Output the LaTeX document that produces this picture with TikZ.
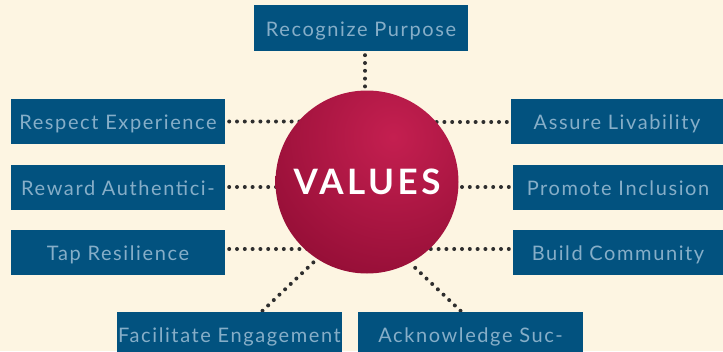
\documentclass[tikz,border=0pt]{standalone}
\usepackage{fontspec}
\setmainfont{Lato}
\newfontfamily\boxfont{Lato}[LetterSpace=8]
\newfontfamily\valfont{Lato}[LetterSpace=10]
\usetikzlibrary{calc,backgrounds}
\definecolor{bgc}{HTML}{FDF5E2}
\definecolor{boxblue}{HTML}{02527F}
\definecolor{boxtext}{HTML}{86AEC8}
\definecolor{dotc}{HTML}{2E2E2E}
\definecolor{cin}{HTML}{C41F50}
\definecolor{cout}{HTML}{780427}
\begin{document}
\begin{tikzpicture}[x=1pt,y=-1pt,
  box/.style={fill=boxblue, text=boxtext, minimum width=214pt, minimum height=45pt, inner sep=0pt,
    text height=20pt, text depth=4pt, font=\boxfont\fontsize{20}{24}\selectfont},
  dots/.style={draw=dotc, line width=4pt, line cap=round, dash pattern=on 0pt off 7.8pt}]
\clip (0,0) rectangle (723,351);
\begin{scope}[on background layer]
  \fill[bgc] (0,0) rectangle (723,351);
\end{scope}
\node[box, minimum height=46pt] (rec) at (361,28) {Recognize Purpose};
\node[box] (resp) at (118,121.5) {Respect Experience};
\node[box] (rew) at (118,187) {Reward Authentici-};
\node[box] (tap) at (118,252) {Tap Resilience};
\node[box, minimum width=212pt] (ass) at (617,121) {Assure Livability};
\node[box, minimum width=210pt] (pro) at (618,187) {Promote Inclusion};
\node[box, minimum width=210pt] (bui) at (618,252) {Build Community};
\node[box, minimum width=225pt] (fac) at (229.5,334.5) {Facilitate Engagement};
\node[box, minimum width=225pt] (ack) at (470.5,334.5) {Acknowledge Suc-};
\node[circle, minimum size=183pt, inner sep=0pt, text=white,
  font=\valfont\fontsize{35}{40}\selectfont\bfseries,
  path picture={\shade[inner color=cin, outer color=cout]
    ($(path picture bounding box.center)+(26pt,45pt)$) circle (240pt);}]
  (vals) at (367,182) {VALUES};
\begin{scope}[on background layer]
  \draw[dots] ($(rec.south)+(4,4)$) -- ($(rec.south |- vals.center)+(4,0)$);
  \draw[dots] ($(resp.east)+(4,0)$) -- (resp.east -| vals.center);
  \draw[dots] ($(rew.east)+(4,0)$) -- (rew.east -| vals.center);
  \draw[dots] ($(tap.east)+(4,-3)$) -- ($(tap.east -| vals.center)+(0,-3)$);
  \draw[dots] ($(ass.west)+(-4,1)$) -- ($(ass.west -| vals.center)+(0,1)$);
  \draw[dots] ($(pro.west)+(-4,0)$) -- (pro.west -| vals.center);
  \draw[dots] ($(bui.west)+(-4,-3)$) -- ($(bui.west -| vals.center)+(0,-3)$);
  \draw[dots] ($(fac.north)+(33,-1)$) -- (vals.237);
  \draw[dots] ($(ack.north)+(-10,-1)$) -- (vals.298);
\end{scope}
\end{tikzpicture}
\end{document}
